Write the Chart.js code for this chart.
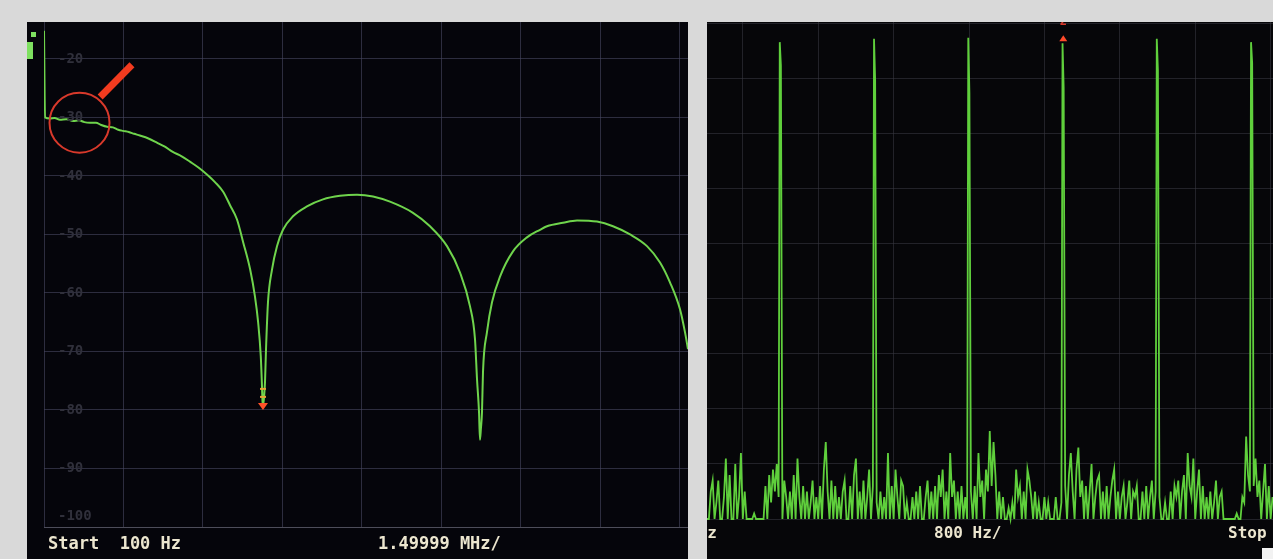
<!DOCTYPE html>
<html lang="en">
<head>
    <meta charset="UTF-8">
    <title>Filter response / spectrum</title>
    <script src="https://cdn.jsdelivr.net/npm/chart.js"></script>
    <style>
        body { margin: 0; background: #d9d9d9; width: 1273px; height: 559px; overflow: hidden; position: relative; font-family: "DejaVu Sans Mono", monospace; }
        .panel { position: absolute; top: 22px; height: 537px; overflow: hidden; }
        #leftPanel { left: 27px; width: 661px; background: #05050b; }
        #rightPanel { left: 707px; width: 566px; background: #060609; }
        .scr-text { position: absolute; color: #ece6cf; font-weight: bold; white-space: pre; line-height: 20px; }
        .chip { position: absolute; background: #7ee060; }
    </style>
</head>
<body>
    <div id="leftPanel" class="panel">
        <canvas id="leftChart"></canvas>
        <div class="chip" style="left:4px;top:10px;width:5px;height:5px;"></div>
        <div class="chip" style="left:0px;top:20px;width:6px;height:17px;"></div>
        <div class="scr-text" style="left:21px;top:511px;font-size:17px;">Start  100 Hz</div>
        <div class="scr-text" style="left:351px;top:511px;font-size:17px;">1.49999 MHz/</div>
    </div>
    <div id="rightPanel" class="panel">
        <canvas id="rightChart"></canvas>
        <div class="scr-text" style="right:556px;top:501px;font-size:16px;">Start 1000 Hz</div>
        <div class="scr-text" style="left:227px;top:501px;font-size:16px;">800 Hz/</div>
        <div class="scr-text" style="left:521px;top:501px;font-size:16px;">Stop 9000 Hz</div>
        <div style="position:absolute;left:555px;top:526px;width:11px;height:11px;background:#f2f2f2;"></div>
    </div>

    <script>
        // ---- left screen: filter response, 1.49999 MHz / div ----
        const leftMHz = [
            0, 0.02, 0.11, 0.20, 0.30, 0.42, 0.55, 0.66, 0.76, 0.87,
            0.98, 1.08, 1.19, 1.30, 1.40, 1.49, 1.60, 1.70, 1.81, 1.97,
            2.13, 2.28, 2.43, 2.59, 2.76, 2.92, 3.08, 3.23, 3.38, 3.51,
            3.64, 3.76, 3.89, 3.98, 4.04, 4.09, 4.11, 4.123, 4.132, 4.150,
            4.170, 4.189, 4.226, 4.302, 4.396, 4.509, 4.698, 4.962, 5.264, 5.585,
            5.906, 6.208, 6.528, 6.962, 7.283, 7.604, 7.849, 8.038, 8.132, 8.170,
            8.208, 8.226, 8.245, 8.264, 8.283, 8.358, 8.453, 8.604, 8.849, 9.113,
            9.358, 9.490, 9.792, 10.057, 10.434, 10.736, 11.057, 11.377, 11.623, 11.811,
            12.000, 12.094, 12.151
        ];
        const leftDb = [
            -15.2, -30.0, -30.2, -30.1, -30.4, -30.3, -30.6, -30.5, -30.8, -30.9,
            -30.9, -31.3, -31.6, -31.7, -32.1, -32.3, -32.5, -32.8, -33.1, -33.6,
            -34.3, -35.0, -35.9, -36.6, -37.6, -38.6, -39.8, -41.1, -42.7, -45.0,
            -47.4, -51.4, -56.0, -60.6, -65.0, -70.8, -75.2, -78.6, -79.3, -78.0,
            -75.2, -69.6, -61.6, -56.0, -52.0, -49.2, -46.9, -45.2, -44.0, -43.4,
            -43.2, -43.5, -44.4, -46.3, -48.6, -52.0, -56.5, -62.3, -67.9, -74.7,
            -80.4, -85.1, -83.0, -80.4, -73.5, -66.7, -61.6, -57.2, -52.9, -50.5,
            -49.2, -48.6, -48.0, -47.6, -47.8, -48.6, -50.0, -52.0, -54.8, -58.2,
            -62.8, -66.7, -69.6
        ];
        const leftXTicks = [0, 1.49999, 2.99998, 4.49997, 5.99996, 7.49995, 8.99994, 10.49993, 11.99992];
        const leftYTicks = [-100, -90, -80, -70, -60, -50, -40, -30, -20];

        // red hand-drawn note on the left screen (data coordinates)
        const noteCircle = { x: 0.67, y: -30.9 };
        const noteArrowFrom = { x: 1.66, y: -21.0 };
        const noteArrowTo = { x: 1.06, y: -26.5 };

        // ---- right screen: 1 kHz harmonics, 800 Hz / div ----
        const noiseStartHz = 2220;
        const noiseStepHz = 20;
        const noiseDb = [
            0, 0, 5, 7, 0, 3, 7, 0, 0, 4,
            11, 0, 8, 0, 0, 10, 0, 4, 12, 0,
            5, 0, 0, 0, 0, 1, 0, 0, 0, 0,
            0, 6, 0, 8, 3, 9, 5, 10, 4, 0,
            0, 7, 4, 0, 5, 0, 8, 0, 11, 4,
            0, 6, 0, 5, 0, 3, 7, 0, 4, 0,
            6, 0, 9, 14, 5, 0, 7, 0, 6, 0,
            4, 0, 5, 7, 0, 0, 6, 0, 8, 11,
            0, 5, 0, 7, 0, 4, 9, 0, 6, 0,
            3, 0, 5, 0, 4, 0, 12, 0, 6, 0,
            9, 4, 0, 7, 6, 0, 3, 0, 0, 4,
            0, 5, 0, 6, 0, 0, 4, 7, 0, 5,
            0, 6, 0, 8, 4, 9, 0, 5, 0, 12,
            4, 7, 0, 5, 0, 6, 0, 4, 0, 0,
            5, 0, 6, 0, 12, 4, 7, 0, 9, 5,
            16, 6, 14, 8, 0, 5, 0, 4, 0, 0,
            2, 0, 3, 0, 9, 4, 6, 0, 5, 0,
            9, 7, 4, 0, 5, 0, 3, 0, 0, 4,
            0, 3, 0, 0, 0, 4, 0, 0, 3, 0,
            6, 0, 8, 12, 5, 0, 9, 13, 4, 7,
            0, 6, 0, 5, 10, 0, 4, 7, 8, 0,
            5, 0, 6, 0, 4, 7, 9, 0, 5, 0,
            4, 6, 0, 3, 7, 0, 5, 4, 6, 0,
            0, 5, 0, 6, 0, 4, 7, 0, 5, 0,
            4, 0, 0, 3, 0, 0, 5, 0, 6, 4,
            7, 0, 5, 8, 0, 12, 6, 4, 11, 0,
            5, 9, 0, 6, 0, 4, 0, 5, 0, 3,
            7, 0, 4, 5, 0, 0, 0, 0, 0, 0,
            0, 1, 0, 0, 4, 3, 15, 8, 5, 0,
            6, 11, 4, 7, 0, 5, 10, 0, 6, 0, 4
        ];
        const noiseFloorDb = -100;
        const toneHz = [3000, 4000, 5000, 6000, 7000, 8000];
        const tonePeakDb = [-13.3, -12.7, -12.5, -13.5, -12.7, -13.3];
        const toneShoulderDb = [-17.5, -20.2, -22.5, -21.5, -18.4, -17.1];
        const rightXTicks = [1000, 1800, 2600, 3400, 4200, 5000, 5800, 6600, 7400, 8200, 9000];
        const rightYTicks = [-100, -90, -80, -70, -60, -50, -40, -30, -20, -10];
        const markerTone = 3; // marker "2" sits on the 6 kHz line

        const leftNotes = {
            id: 'leftNotes',
            afterDatasetsDraw(chart) {
                const { ctx, chartArea, scales: { x, y } } = chart;
                ctx.save();
                // dB labels inside the screen
                ctx.font = 'bold 14px "DejaVu Sans Mono"';
                ctx.fillStyle = '#30303b';
                ctx.textAlign = 'left';
                ctx.textBaseline = 'middle';
                leftYTicks.forEach(v => {
                    let ly = y.getPixelForValue(v);
                    if (ly > chartArea.bottom - 8) ly -= 11;
                    ctx.fillText(String(v), chartArea.left + 14, ly);
                });
                // marker at the first notch
                let k = 0;
                leftDb.forEach((v, i) => { if (leftMHz[i] < 6 && v < leftDb[k]) k = i; });
                const mx = x.getPixelForValue(leftMHz[k]);
                const my = y.getPixelForValue(leftDb[k]);
                ctx.fillStyle = '#e8a235';
                ctx.fillRect(mx - 3, my - 18, 6, 2);
                ctx.fillRect(mx - 3, my - 10, 6, 2);
                ctx.fillStyle = '#ff5228';
                ctx.beginPath();
                ctx.moveTo(mx - 5, my - 3);
                ctx.lineTo(mx + 5, my - 3);
                ctx.lineTo(mx, my + 4);
                ctx.closePath();
                ctx.fill();
                // red circle and arrow
                ctx.strokeStyle = '#d8392b';
                ctx.lineWidth = 2;
                ctx.beginPath();
                ctx.arc(x.getPixelForValue(noteCircle.x), y.getPixelForValue(noteCircle.y), 30, 0, Math.PI * 2);
                ctx.stroke();
                ctx.strokeStyle = '#f23b1f';
                ctx.lineWidth = 7;
                ctx.beginPath();
                ctx.moveTo(x.getPixelForValue(noteArrowFrom.x), y.getPixelForValue(noteArrowFrom.y));
                ctx.lineTo(x.getPixelForValue(noteArrowTo.x), y.getPixelForValue(noteArrowTo.y));
                ctx.stroke();
                ctx.restore();
            }
        };

        const rightNotes = {
            id: 'rightNotes',
            afterDatasetsDraw(chart) {
                const { ctx, scales: { x, y } } = chart;
                const px = x.getPixelForValue(toneHz[markerTone]);
                const py = y.getPixelForValue(tonePeakDb[markerTone]);
                ctx.save();
                ctx.fillStyle = '#ff4a2a';
                ctx.beginPath();
                ctx.moveTo(px - 4, py - 2);
                ctx.lineTo(px + 4, py - 2);
                ctx.lineTo(px, py - 8);
                ctx.closePath();
                ctx.fill();
                ctx.font = 'bold 12px "DejaVu Sans Mono"';
                ctx.textAlign = 'center';
                ctx.textBaseline = 'bottom';
                ctx.fillStyle = '#d8392b';
                ctx.fillText('2', px, 6);
                ctx.restore();
            }
        };

        const hiddenAxis = {
            ticks: { display: false },
            border: { display: false }
        };

        new Chart(document.getElementById('leftChart'), {
            type: 'line',
            data: {
                datasets: [{
                    data: leftMHz.map((f, i) => ({ x: f, y: leftDb[i] })),
                    borderColor: '#6fd44c',
                    borderWidth: 2,
                    pointRadius: 0,
                    cubicInterpolationMode: 'monotone'
                }]
            },
            options: {
                responsive: true,
                maintainAspectRatio: false,
                animation: false,
                layout: { padding: { left: 17, right: 0, top: 0, bottom: 32 } },
                plugins: { legend: { display: false }, tooltip: { enabled: false } },
                scales: {
                    x: {
                        ...hiddenAxis,
                        type: 'linear',
                        min: 0,
                        max: 12.151,
                        afterBuildTicks: s => { s.ticks = leftXTicks.map(v => ({ value: v })); },
                        grid: { color: 'rgba(72,72,98,0.6)', lineWidth: 1, drawTicks: false }
                    },
                    y: {
                        ...hiddenAxis,
                        min: -100,
                        max: -13.69,
                        afterBuildTicks: s => { s.ticks = leftYTicks.map(v => ({ value: v })); },
                        grid: {
                            color: c => c.tick && c.tick.value === -100 ? 'rgba(95,95,110,0.8)' : 'rgba(72,72,98,0.6)',
                            lineWidth: 1,
                            drawTicks: false
                        }
                    }
                }
            },
            plugins: [leftNotes]
        });

        const rightPoints = [];
        noiseDb.forEach((n, i) => {
            const f = noiseStartHz + i * noiseStepHz;
            const k = toneHz.indexOf(f);
            if (k < 0) {
                rightPoints.push({ x: f, y: noiseFloorDb + n });
            } else {
                rightPoints.push({ x: f - 8, y: tonePeakDb[k] }, { x: f + 4, y: toneShoulderDb[k] });
            }
        });

        new Chart(document.getElementById('rightChart'), {
            type: 'line',
            data: {
                datasets: [{
                    data: rightPoints,
                    borderColor: '#5fcf3c',
                    borderWidth: 1.8,
                    pointRadius: 0,
                    tension: 0,
                    clip: false
                }]
            },
            options: {
                responsive: true,
                maintainAspectRatio: false,
                animation: false,
                layout: { padding: { left: 0, right: 0, top: 0, bottom: 40 } },
                plugins: { legend: { display: false }, tooltip: { enabled: false } },
                scales: {
                    x: {
                        ...hiddenAxis,
                        type: 'linear',
                        min: 2220,
                        max: 8225,
                        afterBuildTicks: s => { s.ticks = rightXTicks.map(v => ({ value: v })); },
                        grid: { color: 'rgba(58,58,68,0.55)', lineWidth: 1, drawTicks: false }
                    },
                    y: {
                        ...hiddenAxis,
                        min: -100,
                        max: -9.64,
                        afterBuildTicks: s => { s.ticks = rightYTicks.map(v => ({ value: v })); },
                        grid: { color: 'rgba(58,58,68,0.55)', lineWidth: 1, drawTicks: false }
                    }
                }
            },
            plugins: [rightNotes]
        });
    </script>
</body>
</html>
